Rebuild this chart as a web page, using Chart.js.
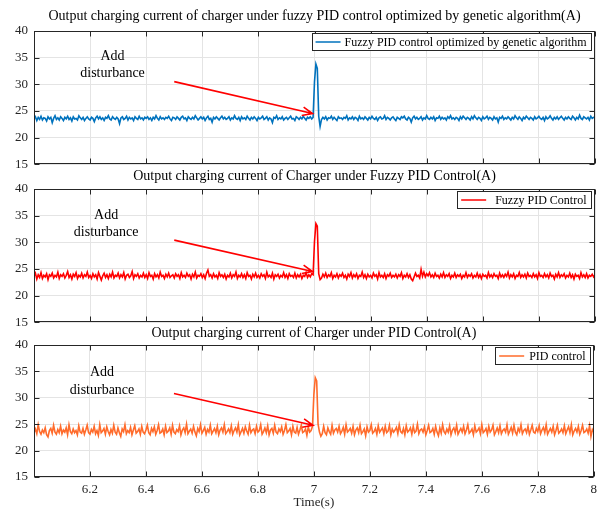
<!DOCTYPE html>
<html>
<head>
<meta charset="utf-8">
<script src="https://cdn.jsdelivr.net/npm/chart.js@4/dist/chart.umd.min.js"></script>
<style>
  body { margin: 0; background: #fff; }
  #wrap { position: relative; width: 602px; height: 510px; }
  canvas { position: absolute; left: 0; }
</style>
</head>
<body>
<div id="wrap">
  <canvas id="c1" width="602" height="178" style="top:0px"></canvas>
  <canvas id="c2" width="602" height="178" style="top:158px"></canvas>
  <canvas id="c3" width="602" height="196" style="top:314px"></canvas>
</div>
<script>
// sampling: 6.000 s .. 8.000 s, every 5 ms
var t0 = 6, dt = 0.005;

// fuzzy PID optimized by GA (A)
var gaPid = [
23.5,23.9,23.2,23.8,23.4,24.0,23.3,23.7,23.6,23.1,23.9,23.5,23.8,22.8,23.6,24.1,23.4,23.7,23.3,23.9,
23.6,23.2,23.8,23.5,24.0,23.4,23.7,23.1,23.9,23.5,23.6,23.3,24.1,23.7,23.4,23.8,23.2,23.6,23.9,23.5,
23.3,23.8,23.6,23.0,23.7,24.0,23.5,23.9,23.4,23.7,23.2,23.8,23.6,24.1,23.5,23.3,23.9,23.6,23.4,23.8,
23.5,22.6,23.7,23.9,23.4,23.6,24.0,23.3,23.8,23.5,23.7,23.2,23.9,23.6,23.4,24.0,23.5,23.7,23.3,23.8,
23.6,23.9,23.4,23.7,23.2,23.8,23.5,24.1,23.6,23.3,23.9,23.5,23.7,23.4,23.8,23.6,24.0,23.5,23.2,23.8,
23.7,23.4,23.9,23.6,23.3,23.8,24.0,23.5,23.7,23.2,23.9,23.6,23.4,23.8,23.5,24.1,23.7,23.3,23.6,23.9,
23.5,23.8,23.2,23.7,24.0,23.4,23.6,22.9,23.8,23.5,23.9,23.6,23.3,23.7,24.0,23.5,23.8,23.4,23.6,23.9,
23.3,23.7,23.5,24.1,23.6,23.4,23.8,23.2,23.9,23.5,23.7,23.4,24.0,23.6,23.3,23.8,23.5,23.9,23.6,23.2,
23.8,23.5,23.7,24.0,23.4,23.6,23.9,23.3,23.7,23.5,22.8,23.8,23.6,24.1,23.4,23.7,23.5,23.9,23.3,23.6,
23.8,23.4,23.7,24.0,23.5,23.6,23.2,23.9,23.7,23.4,23.8,23.5,24.0,23.6,23.3,23.8,23.6,23.9,23.5,23.8,
30.5,33.8,33.0,24.0,22.1,23.4,23.8,23.5,23.9,23.3,23.7,23.6,24.0,23.4,23.8,23.5,23.2,23.9,23.6,23.7,
23.4,23.8,23.6,24.1,23.3,23.7,23.5,23.9,23.4,23.8,23.6,23.2,24.0,23.5,23.7,23.4,23.9,23.6,23.3,23.8,
23.5,24.0,23.6,23.4,23.8,23.2,23.7,23.9,23.5,23.6,24.1,23.4,23.8,23.6,23.3,23.7,23.9,23.5,23.2,23.8,
23.6,23.4,23.9,23.7,24.0,23.5,23.3,23.8,23.6,22.9,23.7,24.0,23.5,23.8,23.4,23.6,23.9,23.3,23.7,23.5,
24.1,23.6,23.4,23.8,23.5,23.9,23.2,23.7,23.6,24.0,23.4,23.8,23.5,23.7,23.3,23.9,23.6,24.1,23.5,23.7,
23.4,23.8,23.6,23.2,23.9,23.5,24.0,23.7,23.4,23.8,23.6,23.3,23.9,23.5,24.1,23.7,23.4,23.8,23.6,23.2,
23.9,23.5,23.7,24.0,23.4,23.8,23.6,23.3,23.9,23.5,23.7,22.9,23.8,23.6,24.0,23.4,23.7,23.5,23.9,23.6,
23.3,23.8,23.5,24.1,23.7,23.4,23.9,23.6,23.2,23.8,23.5,24.0,23.7,23.4,23.8,23.6,23.3,23.9,23.5,23.7,
24.0,23.6,23.4,23.8,23.2,23.9,23.5,23.7,24.1,23.6,23.3,23.8,23.5,23.9,23.4,23.7,24.0,23.6,23.3,23.8,
23.5,23.9,23.6,23.4,24.0,23.7,23.3,23.8,23.5,24.2,23.6,23.4,23.9,23.7,23.5,23.8,23.3,24.0,23.6,23.8,
23.7];

// fuzzy PID (A)
var fuzzyPid = [
23.6,24.2,23.1,23.9,23.4,24.3,23.2,23.8,23.5,24.1,23.0,23.9,23.6,24.2,23.3,23.8,23.5,24.4,23.2,23.9,
23.6,24.1,23.3,23.8,24.5,23.4,23.9,23.1,24.0,23.6,24.3,23.2,23.8,23.5,24.2,23.3,23.9,23.6,24.4,23.4,
23.8,23.2,24.1,23.5,23.9,23.1,24.3,23.6,22.9,23.7,24.2,23.4,23.9,23.2,24.0,23.5,24.4,23.3,23.8,23.6,
24.2,23.3,23.9,23.5,24.3,23.1,23.8,24.0,23.4,23.7,24.5,23.2,23.9,23.6,24.1,23.3,23.8,23.5,24.2,23.4,
23.9,23.2,24.3,23.6,23.8,23.1,24.1,23.5,23.9,23.3,24.4,23.6,23.8,23.2,24.0,23.5,24.2,23.4,23.7,23.9,
23.3,24.1,23.6,23.9,23.2,24.3,23.5,23.8,23.4,24.2,23.6,23.9,23.1,24.0,23.5,24.4,23.3,23.8,23.6,24.1,
23.4,23.9,23.2,24.2,24.8,23.6,23.9,23.3,24.1,23.5,23.8,23.2,24.3,23.6,23.9,23.4,24.0,23.1,23.8,23.5,
24.2,23.3,23.9,23.6,24.4,23.2,23.8,23.5,24.1,23.4,23.9,23.2,24.3,23.6,23.8,23.1,24.0,23.5,24.2,23.4,
23.8,23.3,24.1,23.6,23.9,23.2,24.4,23.5,23.8,23.4,24.2,23.1,23.9,23.6,24.0,23.3,23.8,23.5,24.3,23.4,
23.9,23.2,24.1,23.6,23.8,23.4,24.2,23.3,23.9,23.5,24.0,23.2,23.8,23.6,24.3,23.4,23.9,23.5,24.1,23.9,
30.2,33.5,33.0,24.1,23.0,23.3,24.0,23.5,24.2,23.4,23.9,23.6,24.3,23.2,23.8,23.5,24.1,23.3,23.9,23.6,
24.2,23.4,23.8,23.1,24.0,23.6,24.3,23.3,23.9,23.5,24.1,23.2,23.8,23.6,24.4,23.4,23.9,23.2,24.0,23.5,
23.8,23.3,24.2,23.6,23.9,23.1,24.3,23.5,23.8,23.4,24.1,23.2,23.9,23.6,24.2,23.4,23.8,23.5,24.0,23.3,
23.9,23.6,24.3,23.2,23.8,23.5,24.1,23.4,23.9,23.1,22.8,23.5,24.2,23.6,23.8,23.3,24.9,23.6,24.4,23.5,
24.1,23.7,24.3,23.5,23.9,23.4,24.2,23.6,23.8,23.3,24.0,23.5,24.3,23.4,23.9,23.6,24.1,23.2,23.8,23.5,
24.2,23.4,23.9,23.6,24.0,23.2,23.8,23.5,24.3,23.4,23.9,23.6,24.1,23.3,23.8,23.5,24.2,23.4,23.9,23.2,
24.0,23.6,23.8,23.3,24.3,23.5,23.9,23.4,24.1,23.6,23.8,23.2,24.2,23.5,23.9,23.4,24.0,23.6,24.4,23.3,
23.9,23.5,24.1,23.2,23.8,23.6,24.3,23.4,23.9,23.5,24.0,23.3,24.2,23.6,23.8,23.4,24.1,23.5,23.9,23.2,
24.3,23.6,23.8,23.4,24.1,23.5,23.9,23.3,24.2,23.6,23.8,23.1,24.0,23.5,24.3,23.4,23.9,23.6,24.1,23.3,
23.8,23.5,24.2,23.4,23.9,23.1,24.0,23.6,23.8,23.2,24.3,23.5,23.9,23.4,24.1,23.3,23.8,23.6,24.0,23.5,
23.9];

// plain PID (A)
var plainPid = [
23.4,24.1,23.2,24.9,23.6,23.1,23.9,23.4,24.3,23.0,22.6,23.8,24.2,23.3,24.8,23.5,23.1,24.0,23.4,24.6,
23.2,23.9,23.5,24.3,23.0,24.9,23.6,23.2,24.1,23.4,23.8,23.0,24.7,23.5,23.3,24.2,23.1,23.9,24.8,23.4,
23.1,24.0,23.5,24.6,23.2,23.8,22.9,24.9,23.4,23.7,24.2,23.1,24.5,23.6,23.0,24.0,23.3,24.8,23.5,23.1,
24.3,23.4,22.7,24.1,23.6,24.9,23.2,23.8,23.4,24.4,23.0,23.9,24.7,23.3,23.6,24.1,23.1,24.6,23.5,23.2,
23.9,24.8,23.4,23.0,24.2,23.6,24.5,23.1,23.8,24.9,23.3,23.5,24.1,23.0,24.6,23.4,23.7,24.3,23.1,24.8,
23.5,23.2,24.0,23.6,24.7,23.0,23.9,24.3,23.4,25.0,23.2,23.7,24.1,23.3,24.6,23.5,22.8,24.2,23.6,24.9,
23.3,23.8,24.4,23.1,24.0,23.5,24.8,23.2,23.7,24.2,23.4,24.6,23.0,23.9,24.3,23.5,24.9,23.2,23.6,24.1,
23.4,24.7,23.1,23.8,24.3,23.5,24.9,23.0,23.6,24.2,23.3,24.5,23.7,23.1,24.8,23.4,23.9,24.1,23.2,24.6,
23.5,23.8,24.9,23.1,23.6,24.3,23.4,24.7,23.0,23.9,24.2,23.3,24.8,23.5,23.2,24.1,23.6,24.5,23.1,23.8,
24.9,23.4,23.7,24.2,23.0,24.6,23.5,23.3,24.4,23.1,23.9,24.8,23.4,23.6,24.1,22.9,24.5,23.5,23.8,24.6,
30.6,33.8,33.2,25.0,23.5,22.7,23.2,24.6,23.4,23.0,24.3,23.6,23.1,24.8,23.3,23.9,24.2,23.5,24.6,23.2,
23.7,24.4,23.1,24.9,23.5,23.8,24.2,23.3,24.6,23.0,23.9,24.3,23.4,24.8,23.2,23.6,24.1,22.8,24.5,23.5,
23.8,24.9,23.3,23.6,24.2,23.1,24.7,23.5,23.9,24.3,23.2,24.6,23.4,23.7,24.8,23.0,24.1,23.5,23.9,24.4,
23.2,24.9,23.6,23.3,24.2,23.0,24.7,23.5,23.8,24.3,23.1,24.6,23.4,23.7,25.0,23.2,23.9,24.1,23.5,24.5,
23.0,23.8,24.8,23.4,23.6,24.2,23.1,24.6,23.5,22.8,24.3,23.3,24.9,23.6,23.2,24.1,23.5,24.7,23.0,23.9,
24.3,23.4,24.8,23.1,23.7,24.2,23.5,24.6,23.2,23.9,24.9,23.3,23.6,24.1,23.0,24.7,23.5,23.8,24.3,23.2,
24.9,23.4,23.7,24.2,23.1,24.6,23.5,23.9,24.8,23.0,23.6,24.3,23.4,24.7,23.2,23.8,24.1,23.5,24.9,23.1,
23.7,24.4,23.3,24.8,23.5,23.0,24.2,23.6,24.9,23.2,23.8,24.1,23.4,24.6,23.1,23.9,24.8,23.5,23.3,24.2,
23.6,24.7,23.2,23.9,24.4,23.4,24.9,23.1,23.7,24.2,23.5,24.6,23.0,23.8,24.8,23.3,23.6,24.1,23.4,24.7,
23.2,23.9,24.5,23.4,24.9,23.0,23.7,24.2,23.5,24.6,23.1,23.8,24.8,23.4,23.6,24.1,23.3,24.7,22.7,24.0,
23.5];

var serif = '"Liberation Serif", "Times New Roman", serif';
Chart.defaults.font.family = serif;
Chart.defaults.font.size = 13;
Chart.defaults.color = '#262626';

// box, inward ticks, title, legend and the "Add disturbance" note
var overlay = {
  id: 'overlay',
  afterDraw: function(chart, args, o) {
    var ctx = chart.ctx, a = chart.chartArea;
    var x = chart.scales.x, y = chart.scales.y;
    var L = Math.round(a.left) + 0.5, R = Math.round(a.right) - 0.5;
    var T = Math.round(a.top) + 0.5, B = Math.round(a.bottom) - 0.5;
    ctx.save();
    ctx.strokeStyle = '#262626';
    ctx.lineWidth = 1;
    ctx.strokeRect(L, T, R - L, B - T);
    ctx.beginPath();
    x.ticks.forEach(function(t) {
      var px = Math.round(x.getPixelForValue(t.value)) + 0.5;
      ctx.moveTo(px, B); ctx.lineTo(px, B - 5);
      ctx.moveTo(px, T); ctx.lineTo(px, T + 5);
    });
    y.ticks.forEach(function(t) {
      var py = Math.round(y.getPixelForValue(t.value)) + 0.5;
      ctx.moveTo(L, py); ctx.lineTo(L + 5, py);
      ctx.moveTo(R, py); ctx.lineTo(R - 5, py);
    });
    ctx.stroke();

    // title
    ctx.fillStyle = '#000';
    ctx.textAlign = 'center';
    ctx.textBaseline = 'middle';
    ctx.font = '14px ' + serif;
    ctx.fillText(o.title, (a.left + a.right) / 2, a.top - o.titleGap);

    // note
    ctx.fillText('Add', x.getPixelForValue(o.noteX), y.getPixelForValue(o.noteY[0]));
    ctx.fillText('disturbance', x.getPixelForValue(o.noteX), y.getPixelForValue(o.noteY[1]));

    // arrow
    var x1 = x.getPixelForValue(o.arrow[0]), y1 = y.getPixelForValue(o.arrow[1]);
    var x2 = x.getPixelForValue(o.arrow[2]), y2 = y.getPixelForValue(o.arrow[3]);
    var ang = Math.atan2(y2 - y1, x2 - x1);
    ctx.strokeStyle = '#ff0000';
    ctx.lineWidth = 1.6;
    ctx.beginPath();
    ctx.moveTo(x1, y1); ctx.lineTo(x2, y2);
    ctx.moveTo(x2 - 11 * Math.cos(ang - 0.4), y2 - 11 * Math.sin(ang - 0.4));
    ctx.lineTo(x2, y2);
    ctx.lineTo(x2 - 11 * Math.cos(ang + 0.4), y2 - 11 * Math.sin(ang + 0.4));
    ctx.stroke();

    // legend
    ctx.font = '12px ' + serif;
    var tw = ctx.measureText(o.label).width;
    var bx2 = Math.round(a.right) - 3.5, by1 = Math.round(a.top) + 2.5, bh = 17;
    var tx = bx2 - 5 - tw;
    var lx2 = tx - o.gap, lx1 = lx2 - 25, bx1 = Math.round(lx1 - 4) + 0.5;
    ctx.fillStyle = '#fff';
    ctx.fillRect(bx1, by1, bx2 - bx1, bh);
    ctx.strokeStyle = '#262626';
    ctx.lineWidth = 1;
    ctx.strokeRect(bx1, by1, bx2 - bx1, bh);
    ctx.strokeStyle = o.color;
    ctx.lineWidth = 1.5;
    ctx.beginPath();
    ctx.moveTo(lx1, by1 + bh / 2); ctx.lineTo(lx2, by1 + bh / 2);
    ctx.stroke();
    ctx.fillStyle = '#000';
    ctx.textAlign = 'left';
    ctx.fillText(o.label, tx, by1 + bh / 2 + 0.5);
    ctx.restore();
  }
};

function makeChart(id, values, o) {
  var pts = values.map(function(v, i) { return { x: t0 + i * dt, y: v }; });
  return new Chart(document.getElementById(id), {
    type: 'line',
    data: { datasets: [{
      label: o.label, data: pts, borderColor: o.color,
      borderWidth: 1.6, pointRadius: 0, tension: 0
    }] },
    options: {
      responsive: false,
      animation: false,
      layout: { padding: { top: 31, right: 7, left: 0, bottom: 0 } },
      plugins: { legend: { display: false }, tooltip: { enabled: false }, overlay: o },
      scales: {
        x: {
          type: 'linear', min: 6, max: 8,
          ticks: {
            stepSize: 0.2, display: o.showX, padding: 5, maxRotation: 0, autoSkip: false,
            callback: function(v) { return Math.abs(v - 6) < 1e-6 ? '' : String(parseFloat(v.toFixed(1))); }
          },
          grid: { color: '#e4e4e4', drawTicks: false },
          border: { display: false },
          title: { display: o.showX, text: 'Time(s)', font: { size: 13 }, padding: { top: 0, bottom: 0 } },
          afterFit: function(s) { s.height = o.xHeight; }
        },
        y: {
          min: 15, max: 40,
          ticks: { stepSize: 5, padding: 6 },
          grid: { color: '#e4e4e4', drawTicks: false },
          border: { display: false },
          afterFit: function(s) { s.width = 34; }
        }
      }
    },
    plugins: [overlay]
  });
}

makeChart('c1', gaPid, {
  title: 'Output charging current of charger under fuzzy PID control optimized by genetic algorithm(A)',
  titleGap: 15, label: 'Fuzzy PID control optimized by genetic algorithm', color: '#0072BD', gap: 4,
  noteX: 6.28, noteY: [35.2, 32.1], arrow: [6.5, 30.5, 6.993, 24.5], showX: false, xHeight: 0
});
makeChart('c2', fuzzyPid, {
  title: 'Output charging current of Charger under Fuzzy PID Control(A)',
  titleGap: 13, label: 'Fuzzy PID Control', color: '#FF0000', gap: 9,
  noteX: 6.257, noteY: [35.1, 31.9], arrow: [6.5, 30.4, 6.993, 24.5], showX: false, xHeight: 0
});
makeChart('c3', plainPid, {
  title: 'Output charging current of Charger under PID Control(A)',
  titleGap: 12, label: 'PID control', color: '#FF6B2B', gap: 5,
  noteX: 6.243, noteY: [34.9, 31.5], arrow: [6.5, 30.8, 6.997, 24.8], showX: true, xHeight: 33
});
</script>
</body>
</html>
